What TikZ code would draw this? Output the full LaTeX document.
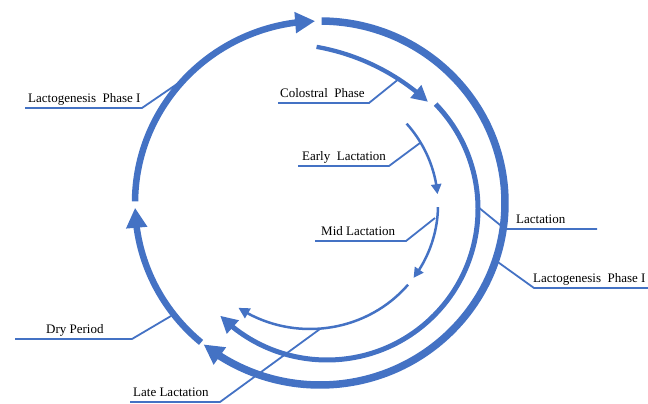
\documentclass[tikz,border=0pt]{standalone}
\usepackage{fontspec}
\setmainfont{Liberation Serif}
\usetikzlibrary{arrows.meta,bending}
\definecolor{blu}{HTML}{4472C4}

\begin{document}
\begin{tikzpicture}[x=1pt, y=1pt,
    every node/.style={font=\fontsize{13}{15}\selectfont, inner sep=0pt, anchor=base west},
    guida/.style={blu, line width=1.8pt},
    tratto/.style={blu, line width=#1},
    punta/.style={-{Triangle[length=#1, width=#1]}}]

    \useasboundingbox (0,0) rectangle (648,404);

    % Centri degli archi (anelli del ciclo)
    \coordinate (Oe) at (320,201);   % anello esterno
    \coordinate (Om) at (327,195);   % anello medio
    \coordinate (Oc) at (278,138.5); % fase colostrale
    \coordinate (Oi) at (310,199);   % anello interno

    % Punti di contatto delle linee guida sugli archi
    \coordinate (Tlp1) at (180,322);
    \coordinate (Tcol) at (400,326);
    \coordinate (Tear) at (420,261);
    \coordinate (Tmid) at (435,186);
    \coordinate (Tlac) at (478,197);
    \coordinate (Tlp2) at (495,144);
    \coordinate (Tdry) at (171,88);
    \coordinate (Tlat) at (320,75);

    % Estremi delle sottolineature
    \coordinate (Ulp1a) at (25,296);  \coordinate (Ulp1b) at (142,296);
    \coordinate (Ucola) at (278,301); \coordinate (Ucolb) at (369,301);
    \coordinate (Ueara) at (298,238); \coordinate (Uearb) at (389,238);
    \coordinate (Umida) at (315,163); \coordinate (Umidb) at (406,163);
    \coordinate (Ulaca) at (597,175); \coordinate (Ulacb) at (505,175);
    \coordinate (Ulp2a) at (648,116); \coordinate (Ulp2b) at (534,116);
    \coordinate (Udrya) at (15,65);   \coordinate (Udryb) at (132,65);
    \coordinate (Ulata) at (130,2);   \coordinate (Ulatb) at (220,2);

    % --- LINEE GUIDA (sotto gli archi) ---
    \foreach \g in {lp1, col, ear, mid, lac, lp2, dry, lat} {
        \draw[guida] (U\g a) -- (U\g b) -- (T\g);
    }

    % --- ANELLO ESTERNO ---
    % Lattogenesi fase I
    \draw[tratto=6.5pt, punta=20pt] (Oe) ++(179.5:185pt and 182pt)
        arc[start angle=179.5, end angle=91.5, x radius=185pt, y radius=182pt];
    % Lattogenesi fase II
    \draw[tratto=7.5pt, punta=20pt] (Oe) ++(89.5:185pt and 182pt)
        arc[start angle=89.5, end angle=-129, x radius=185pt, y radius=182pt];
    % Periodo secco
    \draw[tratto=6.5pt, punta=20pt] (Oe) ++(230:185pt and 182pt)
        arc[start angle=230, end angle=181.5, x radius=185pt, y radius=182pt];

    % --- ANELLO MEDIO ---
    % Fase colostrale
    \draw[tratto=4.3pt, punta=16pt] (Oc) ++(80:222pt)
        arc[start angle=80, end angle=47.5, radius=222pt];
    % Lattazione
    \draw[tratto=5pt, punta=17pt] (Om) ++(44:151pt)
        arc[start angle=44, end angle=-135, radius=151pt];

    % --- ANELLO INTERNO ---
    \draw[tratto=2.5pt, punta=10pt] (Oi) ++(41:128pt and 124pt)
        arc[start angle=41, end angle=5, x radius=128pt, y radius=124pt];
    \draw[tratto=2.5pt, punta=10pt] (Oi) ++(-1:128pt and 124pt)
        arc[start angle=-1, end angle=-36, x radius=128pt, y radius=124pt];
    \draw[tratto=2.5pt, punta=11pt] (Oi) ++(-40:128pt and 124pt)
        arc[start angle=-40, end angle=-124, x radius=128pt, y radius=124pt];

    % --- ETICHETTE ---
    \node (lp1) at (28,301)  {Lactogenesis\ \ Phase I};
    \node (col) at (280,306) {Colostral\ \ Phase};
    \node (ear) at (302,243) {Early\ \ Lactation};
    \node (mid) at (321,168) {Mid Lactation};
    \node (lac) at (516,180) {Lactation};
    \node (lp2) at (533,121) {Lactogenesis\ \ Phase I};
    \node (dry) at (46,70)   {Dry Period};
    \node (lat) at (133,7)   {Late Lactation};

\end{tikzpicture}
\end{document}
